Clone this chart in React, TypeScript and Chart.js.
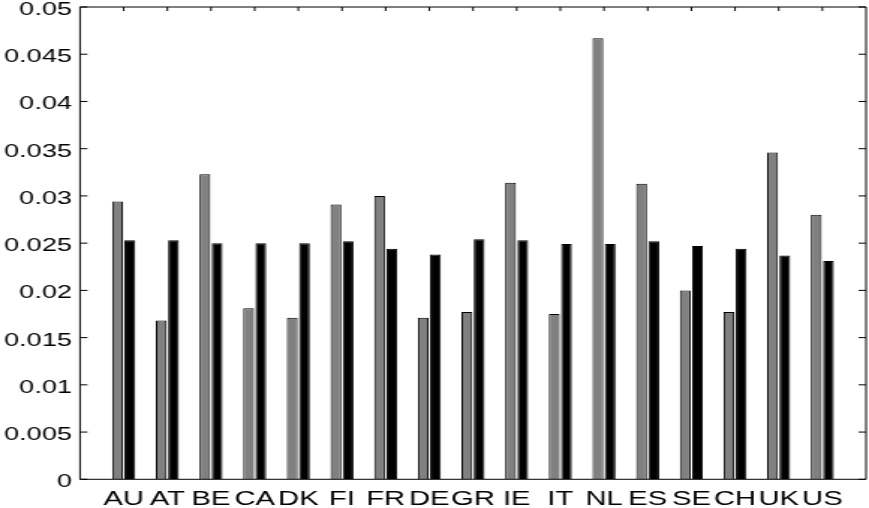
import React, { useEffect, useRef } from "react";
import { Chart, registerables } from "chart.js";

Chart.register(...registerables);

const categories = ["AU", "AT", "BE", "CA", "DK", "FI", "FR", "DE", "GR", "IE", "IT", "NL", "ES", "SE", "CH", "UK", "US"];
const grayValues = [0.0294, 0.0168, 0.0323, 0.0181, 0.0171, 0.0291, 0.03, 0.0171, 0.0177, 0.0314, 0.0175, 0.0467, 0.0313, 0.02, 0.0177, 0.0346, 0.028];
const blackValues = [0.0253, 0.0253, 0.025, 0.025, 0.025, 0.0252, 0.0244, 0.0238, 0.0254, 0.0253, 0.0249, 0.0249, 0.0252, 0.0247, 0.0244, 0.0237, 0.0231];
const yMin = 0;
const yMax = 0.05;
const yStep = 0.005;

// The reference is horizontally stretched: draw on a narrower logical canvas and stretch via CSS.
const LOGICAL_W = 580;
const LOGICAL_H = 508;

const boxPlugin = {
  id: "matlabBox",
  afterDatasetsDraw(chart: any) {
    const { ctx, chartArea, scales } = chart;
    const { left, right, top, bottom } = chartArea;
    ctx.save();
    ctx.strokeStyle = "#000";
    ctx.lineWidth = 1;
    ctx.beginPath();
    ctx.rect(left, top, right - left, bottom - top);
    ctx.stroke();
    const ys = scales.y;
    ctx.beginPath();
    ys.ticks.forEach((t: any) => {
      const py = ys.getPixelForValue(t.value);
      ctx.moveTo(left, py);
      ctx.lineTo(left + 5, py);
      ctx.moveTo(right, py);
      ctx.lineTo(right - 5, py);
    });
    const xs = scales.x;
    categories.forEach((_c, i) => {
      const px = xs.getPixelForValue(i + 1);
      ctx.moveTo(px, top);
      ctx.lineTo(px, top + 4);
    });
    ctx.stroke();
    ctx.restore();
  },
};

export default function App() {
  const canvasRef = useRef<HTMLCanvasElement | null>(null);

  useEffect(() => {
    if (!canvasRef.current) return;
    const chart = new Chart(canvasRef.current, {
      type: "bar",
      data: {
        datasets: [
          {
            label: "gray",
            data: categories.map((_c, i) => ({ x: i + 1, y: grayValues[i] })),
            backgroundColor: "#808080",
            borderColor: "#000",
            borderWidth: 1,
            categoryPercentage: 0.56,
            barPercentage: 0.88,
          },
          {
            label: "black",
            data: categories.map((_c, i) => ({ x: i + 1, y: blackValues[i] })),
            backgroundColor: "#000",
            borderColor: "#000",
            borderWidth: 1,
            categoryPercentage: 0.56,
            barPercentage: 0.88,
          },
        ] as any,
      },
      options: {
        responsive: false,
        animation: false,
        devicePixelRatio: 1,
        layout: { padding: { left: 0, right: 2, top: 7, bottom: 0 } },
        plugins: {
          legend: { display: false },
          tooltip: { enabled: false },
        },
        scales: {
          x: {
            type: "linear",
            min: 0,
            max: 18,
            offset: false,
            grid: { display: false, offset: false, drawTicks: false },
            border: { display: false },
            ticks: {
              stepSize: 1,
              autoSkip: false,
              maxRotation: 0,
              minRotation: 0,
              padding: 9,
              color: "#000",
              font: { family: "Liberation Sans", size: 19.5 },
              callback: (v: any) => {
                const idx = Math.round(Number(v)) - 1;
                return idx >= 0 && idx < categories.length ? categories[idx] : "";
              },
            },
            afterFit: (scale: any) => {
              scale.height = LOGICAL_H - 479.3;
              scale.paddingLeft = 0;
              scale.paddingRight = 0;
            },
          },
          y: {
            min: yMin,
            max: yMax,
            grid: { display: false, drawTicks: false },
            border: { display: false },
            ticks: {
              stepSize: yStep,
              padding: 5.5,
              labelOffset: 3,
              color: "#000",
              font: { family: "Liberation Sans", size: 18 },
              callback: (v: any) => String(Number(Number(v).toFixed(3))),
            },
            afterFit: (scale: any) => {
              scale.width = 53.4;
              scale.paddingTop = 0;
              scale.paddingBottom = 0;
            },
          },
        },
      } as any,
      plugins: [boxPlugin],
    });
    return () => chart.destroy();
  }, []);

  return (
    <div style={{ position: "fixed", left: 0, top: 0, width: 869, height: 508, background: "#fff" }}>
      <canvas
        ref={canvasRef}
        width={LOGICAL_W}
        height={LOGICAL_H}
        style={{ width: "869px", height: "508px", display: "block" }}
      />
    </div>
  );
}
